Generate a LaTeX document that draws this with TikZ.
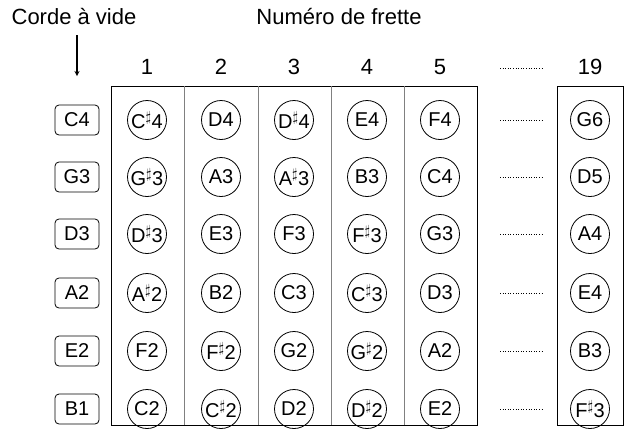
\documentclass[tikz,border=0pt]{standalone}
\usepackage{fontspec}
\setmainfont{Liberation Sans}
\begin{document}
\begin{tikzpicture}[x=1pt,y=-1pt,
  note/.style={circle,draw,line width=0.8pt,minimum size=39pt,inner sep=0pt,font=\fontsize{20}{20}\selectfont},
  open/.style={rounded corners=4pt,draw,line width=0.8pt,minimum width=44pt,minimum height=30pt,inner sep=0pt,font=\fontsize{20}{20}\selectfont},
  lbl/.style={font=\fontsize{22}{22}\selectfont},
  dots/.style={dotted,line width=0.6pt},
  frame/.style={line width=1pt}]
\useasboundingbox (0,0) rectangle (632,429);
\node[lbl] (corde) at (74,17) {Corde à vide};
\node[lbl] (numero) at (339,17) {Numéro de frette};
\coordinate (arrs) at (77,35);
\coordinate (arre) at (77,76);
\draw[-stealth,line width=1.2pt] (arrs) -- (arre);
\draw[frame] (111,86) rectangle (477,425);
\draw[frame] (557,86) rectangle (623,425);
\foreach \x in {184,258,331,404} \draw[line width=0.5pt,gray] (\x,86) -- (\x,425);
\foreach \n/\x in {1/147,2/221,3/294,4/367,5/440,19/590}
  \node[lbl] (h\n) at (\x,67) {\n};
\coordinate (dh1) at (500,68); \coordinate (dh2) at (543,68);
\draw[dots] (dh1) -- (dh2);
\def\s{$^{\sharp}$}
\foreach \r/\y/\o/\a/\b/\c/\d/\e/\z in {
  1/120/C4/C\s4/D4/D\s4/E4/F4/G6,
  2/177/G3/G\s3/A3/A\s3/B3/C4/D5,
  3/234/D3/D\s3/E3/F3/F\s3/G3/A4,
  4/293/A2/A\s2/B2/C3/C\s3/D3/E4,
  5/351/E2/F2/F\s2/G2/G\s2/A2/B3,
  6/409/B1/C2/C\s2/D2/D\s2/E2/F\s3}{
  \node[open] (o\r) at (77,\y) {\o};
  \node[note] (n\r a) at (147,\y) {\a};
  \node[note] (n\r b) at (221,\y) {\b};
  \node[note] (n\r c) at (294,\y) {\c};
  \node[note] (n\r d) at (367,\y) {\d};
  \node[note] (n\r e) at (440,\y) {\e};
  \node[note] (n\r z) at (590,\y) {\z};
  \coordinate (d\r a) at (500,\y); \coordinate (d\r b) at (543,\y);
  \draw[dots] (d\r a) -- (d\r b);
}
\end{tikzpicture}
\end{document}
